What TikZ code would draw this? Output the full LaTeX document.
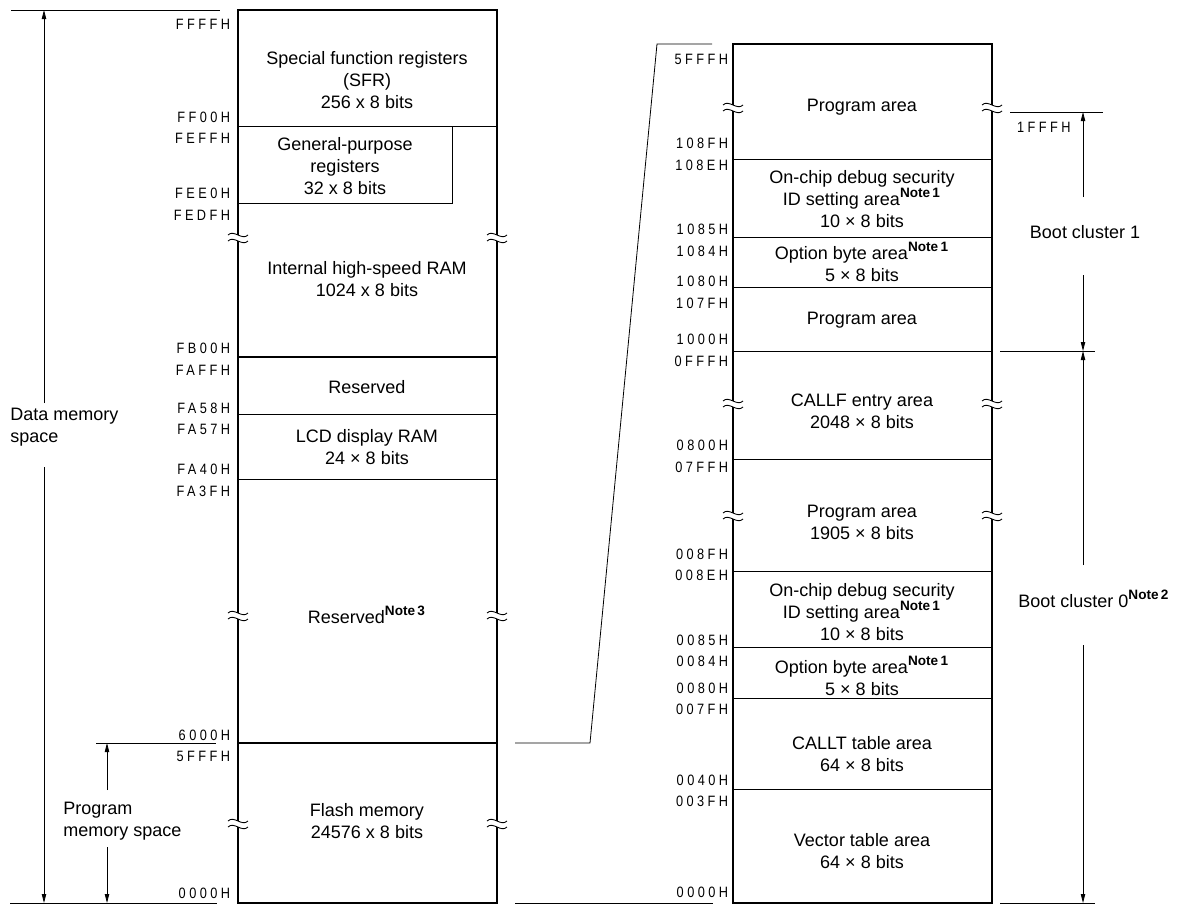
\documentclass[tikz,border=0pt]{standalone}
\usepackage{fontspec}
\setmainfont{Liberation Sans}
\newfontfamily\addrfont{Liberation Sans}[FakeStretch=0.85,LetterSpace=23]
\usetikzlibrary{arrows.meta,positioning}
\newcommand{\notemark}[1]{\textsuperscript{\fontsize{6.8}{7}\selectfont\bfseries Note\,#1}}
\newcommand{\brkmark}[2]{%
  \fill[white] ({#1-1.8},{#2-2}) rectangle ({#1+1.8},{#2+4});
  \draw[brkline] ({#1-10},{#2-2}) .. controls ({#1-4},{#2-8}) and ({#1+4},{#2+4}) .. ({#1+10},{#2-2});
  \draw[brkline] ({#1-10},{#2+4}) .. controls ({#1-4},{#2-2}) and ({#1+4},{#2+10}) .. ({#1+10},{#2+4});
}
\tikzset{
  memframe/.style={line width=1pt},
  memrow/.style={line width=0.5pt},
  memrowb/.style={line width=0.8pt},
  brkline/.style={line width=0.45pt},
  guide/.style={line width=0.4pt},
  dimarrow/.style={line width=0.4pt, -{Triangle[length=4.5pt,width=2.2pt]}},
  addr/.style={font=\fontsize{7.5}{8}\addrfont, anchor=east, inner sep=0pt},
  cell/.style={font=\fontsize{9}{11}\selectfont, align=center, inner sep=0pt},
  sidetext/.style={font=\fontsize{9}{11}\selectfont, align=left, anchor=west, inner sep=0pt},
}
\begin{document}
\begin{tikzpicture}[x=0.5pt, y=-0.5pt]
\useasboundingbox (0,0) rectangle (1183,905);

% Left map: whole address space
\draw[memframe] (238,10) rectangle (497,903);
\draw[memrow] (238,126) -- (497,126);
\draw[memrow] (238,203) -- (452,203) -- (452,126);
\draw[memrowb] (238,357) -- (497,357);
\draw[memrow] (238,414) -- (497,414);
\draw[memrow] (238,479) -- (497,479);
\draw[memrowb] (238,743) -- (497,743);
\brkmark{238}{237} \brkmark{497}{237}
\brkmark{238}{615} \brkmark{497}{615}
\brkmark{238}{823} \brkmark{497}{823}

\node[cell] (sfr) at (367,80) {Special function registers\\(SFR)\\256 x 8 bits};
\node[cell] (gpr) at (345,166) {General-purpose\\registers\\32 x 8 bits};
\node[cell] (hsram) at (367,279) {Internal high-speed RAM\\1024 x 8 bits};
\node[cell] (rsvA) at (367,387) {Reserved};
\node[cell] (lcdram) at (367,447) {LCD display RAM\\24 × 8 bits};
\node[cell] (rsvB) at (367,615) {Reserved\notemark{3}};
\node[cell] (flash) at (367,821) {Flash memory\\24576 x 8 bits};

\node[addr] (lFFFF) at (230.5,24) {FFFFH};
\node[addr] (lFF00) at (230.5,117) {FF00H};
\node[addr] (lFEFF) at (230.5,138) {FEFFH};
\node[addr] (lFEE0) at (230.5,193) {FEE0H};
\node[addr] (lFEDF) at (230.5,215) {FEDFH};
\node[addr] (lFB00) at (230.5,348) {FB00H};
\node[addr] (lFAFF) at (230.5,370) {FAFFH};
\node[addr] (lFA58) at (230.5,408) {FA58H};
\node[addr] (lFA57) at (230.5,429) {FA57H};
\node[addr] (lFA40) at (230.5,469) {FA40H};
\node[addr] (lFA3F) at (230.5,491) {FA3FH};
\node[addr] (l6000) at (230.5,735) {6000H};
\node[addr] (l5FFF) at (230.5,756) {5FFFH};
\node[addr] (l0000) at (230.5,893) {0000H};

% Left side: memory space extents
\coordinate (dmtop) at (44,10);
\coordinate (dmbot) at (44,903);
\coordinate (dmgapA) at (44,403);
\coordinate (dmgapB) at (44,467);
\coordinate (pmtop) at (107,743);
\coordinate (pmbot) at (107,903);
\coordinate (pmgapA) at (107,790);
\coordinate (pmgapB) at (107,847);
\draw[guide] (11,10) -- (220,10);
\draw[guide] (10,903) -- (217,903);
\draw[guide] (96,743) -- (216,743);
\node[sidetext] (dmspace) at (10,427) {Data memory\\space};
\node[sidetext] (pmspace) at (63,821) {Program\\memory space};
\draw[dimarrow] (dmgapA) -- (dmtop);
\draw[dimarrow] (dmgapB) -- (dmbot);
\draw[dimarrow] (pmgapA) -- (pmtop);
\draw[dimarrow] (pmgapB) -- (pmbot);

% Zoom lines to the flash detail
\coordinate (zmA) at (515,743);
\coordinate (zmB) at (590,743);
\coordinate (zmC) at (657,44);
\coordinate (zmD) at (712,44);
\coordinate (zmE) at (515,903);
\coordinate (zmF) at (713,903);
\draw[guide] (zmA) -- (zmB) -- (zmC) -- (zmD);
\draw[guide] (zmE) -- (zmF);

% Right map: flash memory detail
\draw[memframe] (733,44) rectangle (992,903);
\draw[memrow] (733,159) -- (992,159);
\draw[memrow] (733,237) -- (992,237);
\draw[memrow] (733,287) -- (992,287);
\draw[memrow] (733,351) -- (992,351);
\draw[memrow] (733,459) -- (992,459);
\draw[memrow] (733,571) -- (992,571);
\draw[memrow] (733,647) -- (992,647);
\draw[memrow] (733,698) -- (992,698);
\draw[memrow] (733,789) -- (992,789);
\brkmark{733}{107} \brkmark{992}{107}
\brkmark{733}{403} \brkmark{992}{403}
\brkmark{733}{515} \brkmark{992}{515}

\node[cell] (prgA) at (862,107) {Program area};
\node[cell] (ocdA) at (862,199) {On-chip debug security\\ID setting area\notemark{1}\\10 × 8 bits};
\node[cell] (optA) at (862,262) {Option byte area\notemark{1}\\5 × 8 bits};
\node[cell] (prgB) at (862,320) {Program area};
\node[cell] (callf) at (862,411) {CALLF entry area\\2048 × 8 bits};
\node[cell] (prgC) at (862,522) {Program area\\1905 × 8 bits};
\node[cell] (ocdB) at (862,612) {On-chip debug security\\ID setting area\notemark{1}\\10 × 8 bits};
\node[cell] (optB) at (862,676) {Option byte area\notemark{1}\\5 × 8 bits};
\node[cell] (callt) at (862,754) {CALLT table area\\64 × 8 bits};
\node[cell] (vect) at (862,851) {Vector table area\\64 × 8 bits};

\node[addr] (r5FFF) at (728.5,59) {5FFFH};
\node[addr] (r108F) at (728.5,143) {108FH};
\node[addr] (r108E) at (728.5,165) {108EH};
\node[addr] (r1085) at (728.5,229) {1085H};
\node[addr] (r1084) at (728.5,251) {1084H};
\node[addr] (r1080) at (728.5,281) {1080H};
\node[addr] (r107F) at (728.5,303) {107FH};
\node[addr] (r1000) at (728.5,339) {1000H};
\node[addr] (r0FFF) at (728.5,361) {0FFFH};
\node[addr] (r0800) at (728.5,445) {0800H};
\node[addr] (r07FF) at (728.5,467) {07FFH};
\node[addr] (r008F) at (728.5,554) {008FH};
\node[addr] (r008E) at (728.5,575) {008EH};
\node[addr] (r0085) at (728.5,640) {0085H};
\node[addr] (r0084) at (728.5,661) {0084H};
\node[addr] (r0080) at (728.5,688) {0080H};
\node[addr] (r007F) at (728.5,709) {007FH};
\node[addr] (r0040) at (728.5,780) {0040H};
\node[addr] (r003F) at (728.5,801) {003FH};
\node[addr] (r0000) at (728.5,892) {0000H};

% Boot clusters
\coordinate (bctop) at (1083,112);
\coordinate (bcmid) at (1083,351);
\coordinate (bcbot) at (1083,903);
\coordinate (bcgapA) at (1083,197);
\coordinate (bcgapB) at (1083,275);
\coordinate (bcgapC) at (1083,565);
\coordinate (bcgapD) at (1083,645);
\draw[guide] (1010,112) -- (1103,112);
\draw[guide] (1000,351) -- (1095,351);
\draw[guide] (1000,903) -- (1095,903);
\node[addr] (b1FFF) at (1071,127) {1FFFH};
\node[cell] (boot1) at (1085,232) {Boot cluster 1};
\node[sidetext] (boot0) at (1018,599) {Boot cluster 0\notemark{2}};
\draw[dimarrow] (bcgapA) -- (bctop);
\draw[dimarrow] (bcgapB) -- (bcmid);
\draw[dimarrow] (bcgapC) -- (bcmid);
\draw[dimarrow] (bcgapD) -- (bcbot);
\end{tikzpicture}
\end{document}
